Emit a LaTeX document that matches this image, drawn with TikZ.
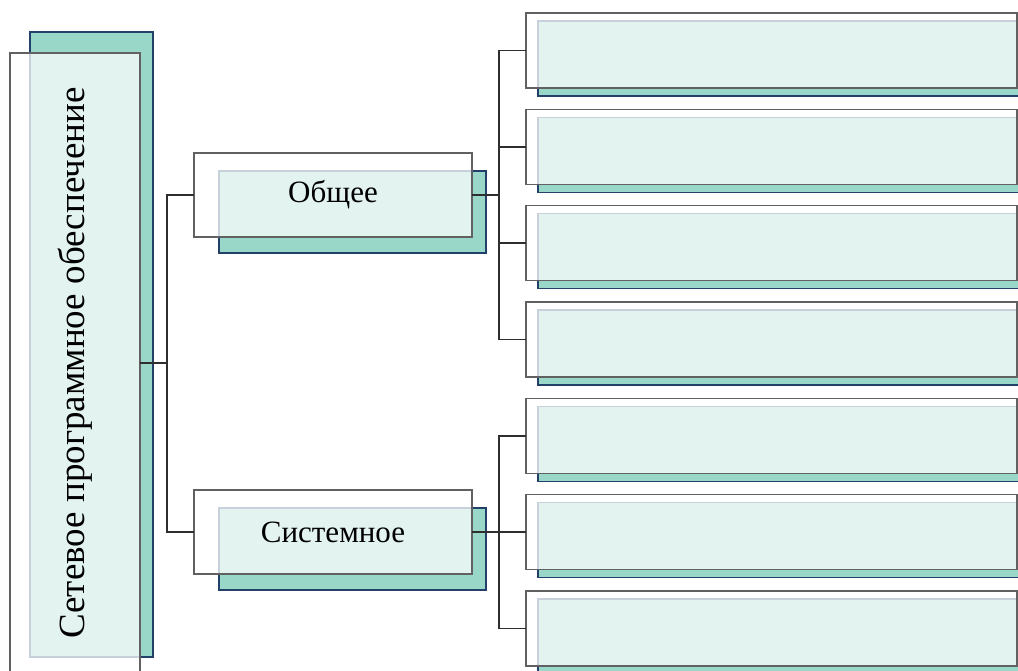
\documentclass[tikz,border=0pt]{standalone}
\usepackage{fontspec}
\setmainfont{Liberation Serif}
\usetikzlibrary{positioning, backgrounds}

\definecolor{colorTeal}{HTML}{99D8C9}
\definecolor{colorTealEdge}{HTML}{23406A}
\definecolor{colorPane}{HTML}{E3F3F0}
\definecolor{colorPaneEdge}{HTML}{C8D0DC}
\colorlet{colorFrame}{black!62}
\colorlet{colorLink}{black!82}

\tikzset{
  outbox/.style={draw=colorFrame, line width=1.4pt, outer sep=0pt, inner sep=0pt, font=\fontsize{31}{36}\selectfont},
  tealback/.style={fill=colorTeal, draw=colorTealEdge, line width=1.1pt},
  pane/.style={fill=colorPane, draw=colorPaneEdge, line width=1.1pt},
  link/.style={draw=colorLink, line width=1.5pt},
}

\begin{document}
\begin{tikzpicture}[x=1pt, y=-1pt]
\useasboundingbox (0,0) rectangle (1018,671);
% main boxes
\node[outbox, minimum width=130pt, minimum height=620pt] (root) at (75,363)
  {\fontsize{37}{40}\selectfont\rotatebox{90}{Сетевое программное обеспечение}};
\node[outbox, minimum width=278pt, minimum height=84pt] (obsh) at (333,195) {Общее};
\node[outbox, minimum width=278pt, minimum height=84pt, below=253pt of obsh] (sys) {Системное};
% empty boxes on the right
\node[outbox, minimum width=491pt, minimum height=75pt] (r1) at (771.5,50.5) {};
\foreach \i [remember=\i as \p (initially 1)] in {2,...,7}
  \node[outbox, minimum width=491pt, minimum height=75pt, below=21.33pt of r\p] (r\i) {};

% teal backs and light panes behind every box
\begin{scope}[on background layer]
\foreach \n/\a/\b/\c/\d in {root/20/-21/13/-16, obsh/25/18/14/16, sys/25/18/14/16,
    r1/12/8/14/8, r2/12/8/14/8, r3/12/8/14/8, r4/12/8/14/8, r5/12/8/14/8, r6/12/8/14/8, r7/12/8/14/8}{
  \pgfmathsetmacro\pa{max(\a,0)}
  \pgfmathsetmacro\pb{max(\b,0)}
  \pgfmathsetmacro\pc{min(\c,0)}
  \pgfmathsetmacro\pd{min(\d,0)}
  \filldraw[tealback] ([shift={(\a,\b)}]\n.north west) rectangle ([shift={(\c,\d)}]\n.south east);
  \filldraw[pane] ([shift={(\pa,\pb)}]\n.north west) rectangle ([shift={(\pc,\pd)}]\n.south east);
}
\end{scope}

% connectors
\draw[link] (root.east) -- ++(27,0) coordinate (j0) |- (obsh.west);
\draw[link] (j0) |- (sys.west);
\draw[link] (obsh.east) -- ++(27,0) coordinate (j1);
\foreach \i in {1,...,4} \draw[link] (j1) |- (r\i.west);
\draw[link] (sys.east) -- ++(27,0) coordinate (j2);
\foreach \i in {5,6,7} \draw[link] (j2) |- (r\i.west);
\end{tikzpicture}
\end{document}
